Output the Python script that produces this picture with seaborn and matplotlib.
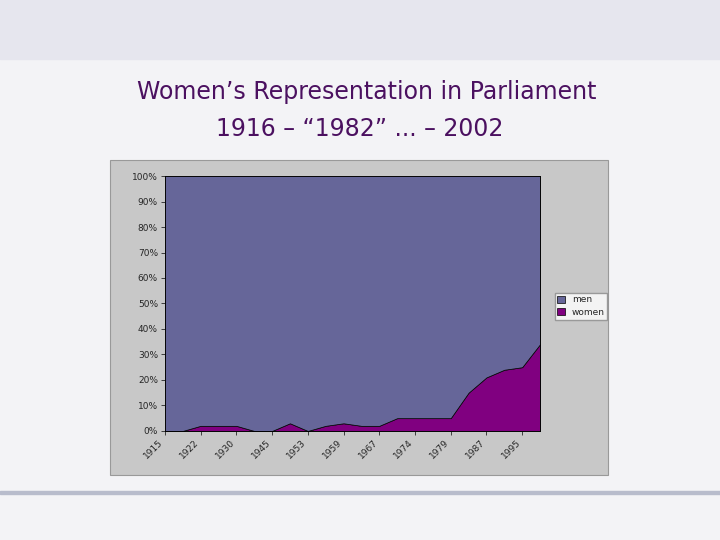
import matplotlib
matplotlib.use('Agg')
import matplotlib.pyplot as plt
import seaborn as sns
import numpy as np
from matplotlib.patches import Rectangle

sns.set_style('white')
plt.rcParams['font.family'] = ['DejaVu Sans']

# women's share of seats per election (percent)
women = [0, 0, 2, 2, 2, 0, 0, 3, 0, 2, 3, 2, 2, 5, 5, 5, 5, 15, 21, 24, 25, 34]
men = [100 - w for w in women]
tick_labels = ['1915', '1922', '1930', '1945', '1953', '1959', '1967', '1974', '1979', '1987', '1995']

fig = plt.figure(figsize=(7.2, 5.4), dpi=100)
fig.patch.set_facecolor('#f3f3f6')

# top decorative band
fig.patches.append(Rectangle((0, 0.89), 1, 0.11, transform=fig.transFigure,
                             color='#e6e6ee', zorder=0))
fig.patches.append(Rectangle((0, 0.085), 1, 0.006, transform=fig.transFigure,
                             color='#b8bccc', zorder=0))

fig.text(0.51, 0.83, 'Women\u2019s Representation in Parliament', ha='center',
         va='center', fontsize=17, color='#4b1060')
fig.text(0.5, 0.762, '1916 \u2013 \u201c1982\u201d ... \u2013 2002', ha='center',
         va='center', fontsize=17, color='#4b1060')

# chart panel
fig.patches.append(Rectangle((0.153, 0.12), 0.691, 0.584, transform=fig.transFigure,
                             facecolor='#c8c8c8', edgecolor='#999999', lw=0.8, zorder=1))

ax = fig.add_axes([0.229, 0.202, 0.521, 0.472])
ax.set_zorder(2)
x = np.arange(len(women))
ax.stackplot(x, women, men, colors=['#800080', '#666699'],
             labels=['women', 'men'], edgecolor='black', linewidth=0.5)
ax.set_xlim(0, len(women) - 1)
ax.set_ylim(0, 100)
ax.set_yticks(range(0, 101, 10))
ax.set_yticklabels([f'{v}%' for v in range(0, 101, 10)], fontsize=6.5)
ax.set_xticks(x[::2])
ax.set_xticklabels(tick_labels, rotation=45, ha='right', fontsize=6.5)
ax.tick_params(axis='both', length=3, width=0.6, direction='out', pad=2)
ax.tick_params(axis='y', left=True)
ax.tick_params(axis='x', bottom=True)
for s in ax.spines.values():
    s.set_linewidth(0.6)
    s.set_color('black')

h, l = ax.get_legend_handles_labels()
fig.legend(h[::-1], l[::-1], loc='center', bbox_to_anchor=(0.807, 0.433),
           fontsize=6.5, frameon=True, fancybox=False, edgecolor='#888888',
           handlelength=0.8, handleheight=0.8, borderpad=0.3, labelspacing=0.4)

plt.savefig('out.png', dpi=100)
